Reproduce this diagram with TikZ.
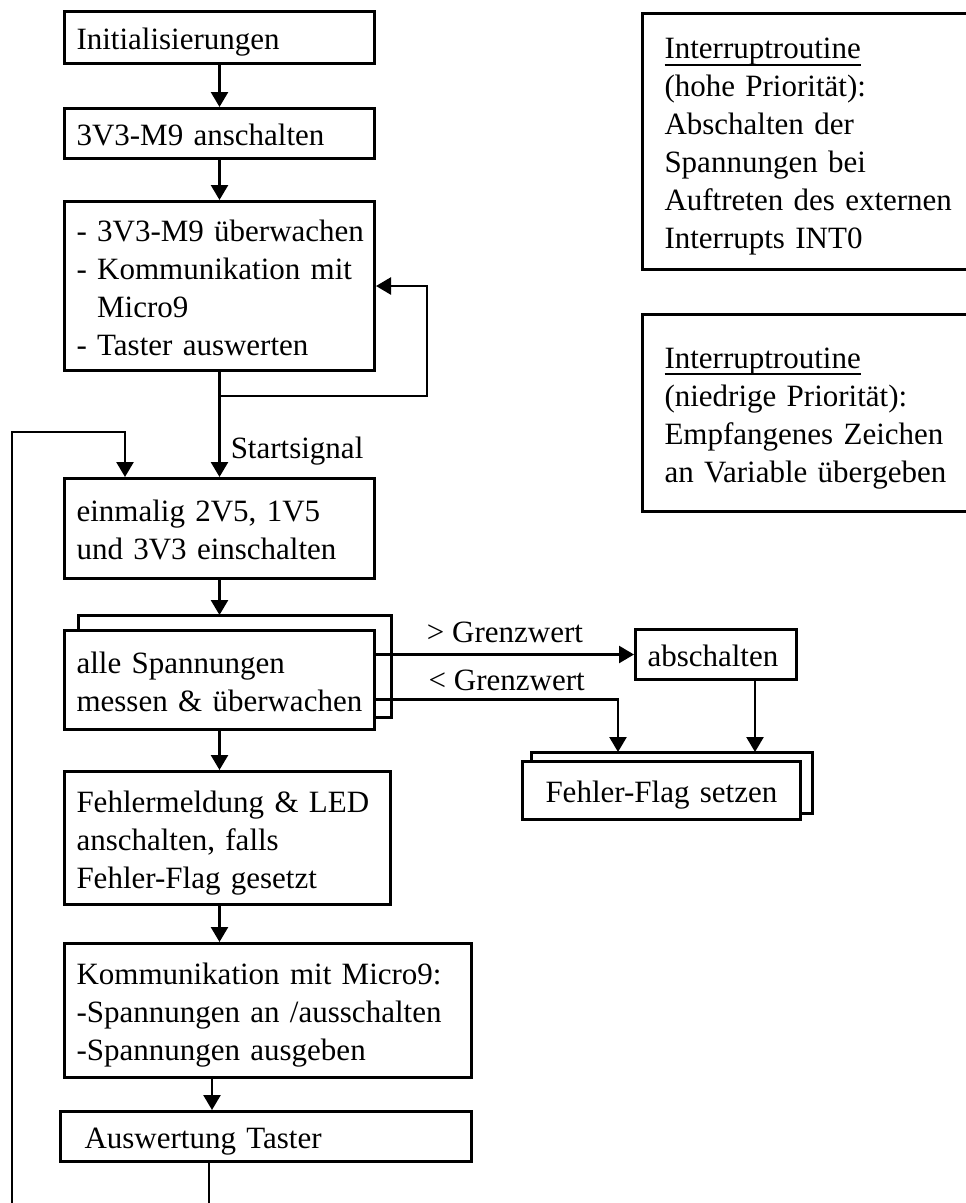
\documentclass[tikz,border=0pt]{standalone}
\usepackage{fontspec}
\setmainfont{Liberation Serif}
\usepackage{tikz}
\usetikzlibrary{arrows.meta}
\usetikzlibrary{calc}
\usetikzlibrary{backgrounds}

\newcommand{\zeile}{\rule[-7pt]{0pt}{38pt}}
\newcommand{\unterstr}[1]{\setbox0=\hbox{#1}\rlap{\rule[-7pt]{\wd0}{2pt}}\box0}

\begin{document}
\begin{tikzpicture}[x=1pt,y=-1pt,font=\fontsize{31}{38}\selectfont,
box/.style={draw,line width=3pt,fill=white,anchor=north west,align=left,inner xsep=12pt,inner ysep=0pt,
  execute at begin node=\zeile,execute at end node=\zeile},
pfeil/.style={line width=2.5pt,-{Triangle[width=17pt,length=15pt]}},
beschr/.style={inner sep=0pt}]
\useasboundingbox (0,0) rectangle (966,1203);

\node[box,text width=286pt,minimum height=52pt] (init) at (63,10) {Initialisierungen};
\node[box,text width=286pt,minimum height=50pt] (an) at (63,107) {3V3-M9 anschalten};
\node[box,text width=286pt,minimum height=169pt] (pruef) at (63,200)
  {\mbox{- 3V3-M9 überwachen}\\- Kommunikation mit\\\hphantom{- }Micro9\\- Taster auswerten};
\node[box,text width=286pt,minimum height=100pt] (ein) at (63,477) {einmalig 2V5, 1V5\\und 3V3 einschalten};
\node[box,text width=286pt,minimum height=99pt] (mess) at (63,629) {alle Spannungen\\\mbox{messen \& überwachen}};
\node[box,text width=302pt,minimum height=133pt] (fehl) at (63,770)
  {Fehlermeldung \& LED\\anschalten, falls\\Fehler-Flag gesetzt};
\node[box,text width=383pt,minimum height=134pt] (komm) at (63,942)
  {Kommunikation mit Micro9:\\-Spannungen an /ausschalten\\-Spannungen ausgeben};
\node[box,inner xsep=24pt,text width=363pt,minimum height=50pt] (taster) at (59,1110) {Auswertung Taster};
\node[box,text width=137pt,minimum height=50pt] (aus) at (634,628) {abschalten};
\node[box,inner xsep=23pt,text width=232pt,minimum height=58pt] (flag) at (521,760) {Fehler-Flag setzen};
\node[box,inner xsep=22pt,text width=300pt,minimum height=256pt] (irh) at (641,12)
  {\unterstr{Interruptroutine}\\(hohe Priorität):\\Abschalten der\\Spannungen bei\\Auftreten des externen\\Interrupts INT0};
\node[box,inner xsep=22pt,text width=300pt,minimum height=197pt] (irn) at (641,313)
  {\unterstr{Interruptroutine}\\(niedrige Priorität):\\Empfangenes Zeichen\\an Variable übergeben};

\begin{scope}[on background layer]
\draw[line width=3pt] ($(mess.north west)+(15,-14)$) rectangle ($(mess.south east)+(15,-14)$);
\draw[line width=3pt] ($(flag.north west)+(10,-8)$) rectangle ($(flag.south east)+(10,-8)$);
\end{scope}

\path[pfeil] (init) edge (an);
\path[pfeil] (an) edge (pruef);
\path[pfeil] (pruef) edge node[beschr,pos=0.75,right=10pt] {Startsignal} (ein);
\draw[pfeil] ($(pruef.south)+(0,24)$) -| ($(pruef.east)+(51,0)$) -- (pruef.east);
\draw[pfeil] (ein) -- ($(mess.north)+(0,-14)$);

\draw[pfeil] (mess.east |- aus.west) -- node[beschr,above=10pt] {> Grenzwert} (aus.west);
\draw[pfeil] ($(mess.east)+(0,19.5)$) -| node[beschr,pos=0.27,above=7pt] {< Grenzwert} ($(flag.north west)+(97,-8)$);
\draw[pfeil] ($(aus.south west)+(121,0)$) -- ($(flag.north west)+(234,-8)$);

\path[pfeil] (mess.south) edge (mess.south |- fehl.north);
\path[pfeil] (fehl.south -| mess.south) edge (komm.north -| mess.south);
\path[pfeil] ($(komm.south west)+(149,0)$) edge ($(taster.north west)+(153,0)$);

\coordinate (rueck) at (12,1230);
\draw[pfeil] ($(taster.south west)+(150,0)$) |- (rueck) |- ($(ein.north west)+(62,-45)$) -- ($(ein.north west)+(62,0)$);
\end{tikzpicture}
\end{document}
